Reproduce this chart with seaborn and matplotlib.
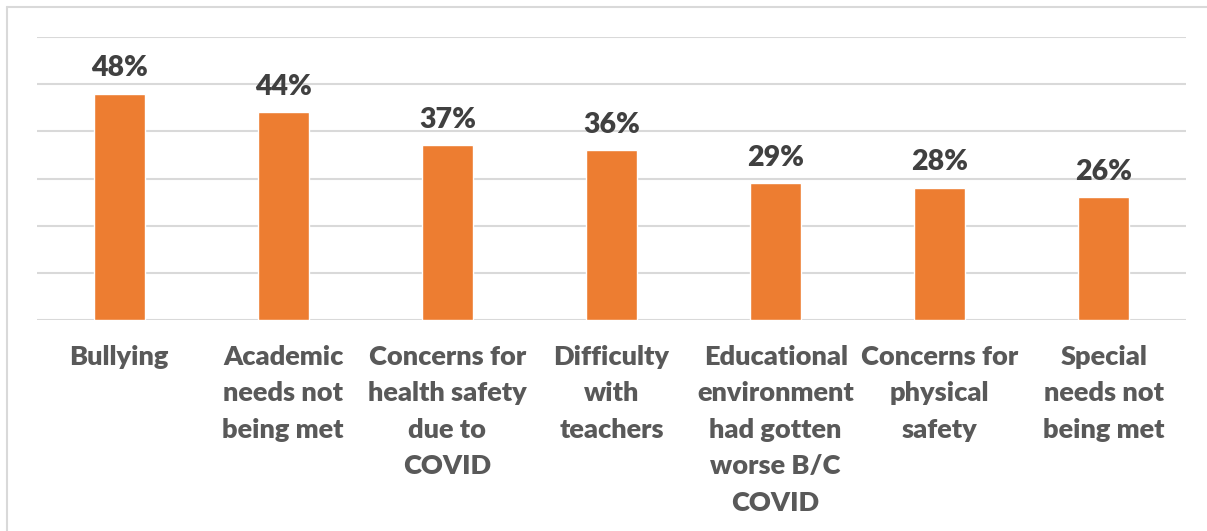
import matplotlib
matplotlib.use("Agg")
import matplotlib.pyplot as plt
import seaborn as sns
import pandas as pd
from matplotlib.lines import Line2D

categories = [
    "Bullying",
    "Academic\nneeds not\nbeing met",
    "Concerns for\nhealth safety\ndue to\nCOVID",
    "Difficulty\nwith\nteachers",
    "Educational\nenvironment\nhad gotten\nworse B/C\nCOVID",
    "Concerns for\nphysical\nsafety",
    "Special\nneeds not\nbeing met",
]
values = [0.48, 0.44, 0.37, 0.36, 0.29, 0.28, 0.26]
value_labels = ["48%", "44%", "37%", "36%", "29%", "28%", "26%"]

df = pd.DataFrame({"category": categories, "value": values})

sns.set_theme(style="white")
plt.rcParams['font.family'] = ['Lato', 'DejaVu Sans']

fig = plt.figure(figsize=(12.07, 5.31), dpi=100)
ax = fig.add_axes([37/1207, 1-320/531, (1186-37)/1207, (320-37)/531])

sns.barplot(data=df, x="category", y="value", color="#ED7D31", width=0.31,
            saturation=1, ax=ax, zorder=3)

ax.set_ylim(0, 0.6)
ax.set_xlim(-0.5, len(categories) - 0.5)
ax.set_yticks([0, 0.1, 0.2, 0.3, 0.4, 0.5, 0.6])
ax.yaxis.grid(True, color="#D9D9D9", linewidth=1.5, zorder=0)
ax.set_yticklabels([])
ax.tick_params(axis="y", length=0)
ax.tick_params(axis="x", length=0, pad=18)
for s in ax.spines.values():
    s.set_visible(False)
ax.set_xlabel("")
ax.set_ylabel("")

for lbl in ax.get_xticklabels():
    lbl.set_fontsize(19.5)
    lbl.set_fontweight("heavy")
    lbl.set_color("#595959")
    lbl.set_linespacing(1.62)
    lbl.set_verticalalignment("top")

for i, (v, t) in enumerate(zip(values, value_labels)):
    ax.annotate(t, (i, v), xytext=(0, 9), textcoords="offset points",
                ha="center", va="bottom", fontsize=20.5, fontweight="heavy",
                color="#404040")

# outer chart frame (partially visible)
fig.add_artist(Line2D([7/1207, 1.0], [1-7/531, 1-7/531], transform=fig.transFigure,
                      color="#D9D9D9", linewidth=1.5))
fig.add_artist(Line2D([7/1207, 7/1207], [0, 1-7/531], transform=fig.transFigure,
                      color="#D9D9D9", linewidth=1.5))

fig.savefig("out.png", dpi=100, facecolor="white")
